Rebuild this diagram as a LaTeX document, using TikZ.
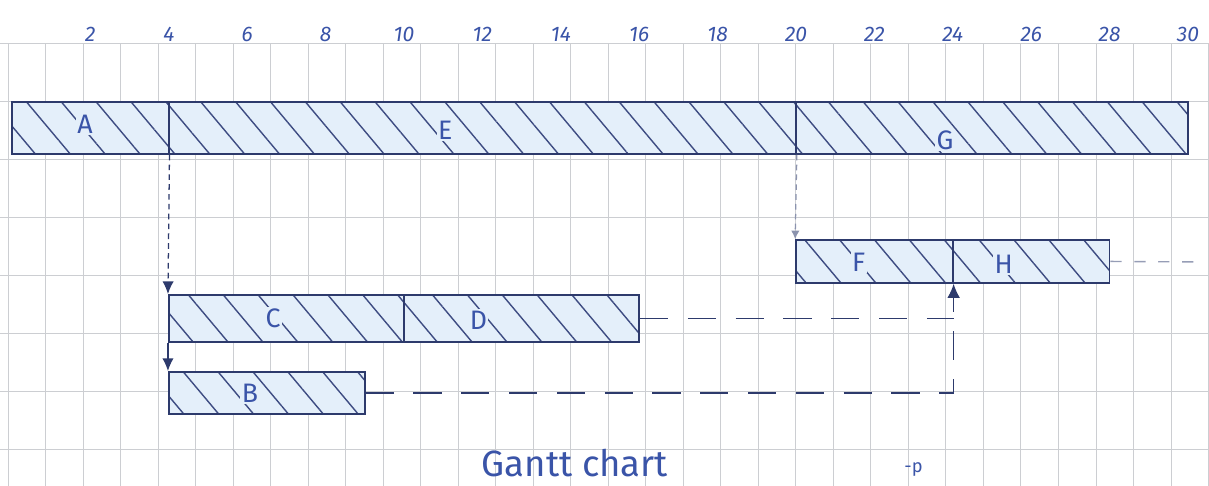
\documentclass[tikz,border=0pt]{standalone}
\usepackage{fontspec}
\setmainfont{Fira Sans}
\usetikzlibrary{positioning,arrows.meta,fit,patterns.meta}
\definecolor{ink}{RGB}{45,58,108}
\definecolor{hatch}{RGB}{62,76,130}
\definecolor{pen}{RGB}{58,84,168}
\definecolor{barwash}{RGB}{228,239,250}
\definecolor{gridline}{RGB}{204,206,210}

\begin{document}
\begin{tikzpicture}[x=0.98cm, y=-0.025cm,
		gridrule/.style={draw=gridline, line width=0.7pt},
		bar/.style={draw=ink, line width=1.2pt, inner sep=0pt,
			preaction={fill=barwash},
			pattern={Lines[angle=-50, distance=19pt, line width=1pt]},
			pattern color=hatch},
		lbl/.style={text=pen, fill=barwash, inner sep=1pt,
			font=\fontsize{19}{21}\selectfont},
		tick/.style={text=pen, font=\fontsize{15}{17}\selectfont\itshape},
		dep/.style={ink, line width=0.9pt, dash pattern=on 4pt off 3pt},
		link/.style={ink, line width=0.9pt},
		longdash/.style={ink, line width=1pt, dash pattern=on 20pt off 14pt},
		shortdash/.style={ink!50, line width=1pt, dash pattern=on 8pt off 9pt}]
	\useasboundingbox (-0.306,0) rectangle (30.536,486);
	% squared paper
	\foreach \k in {0,...,32}
		\draw[gridrule] ({-0.1+0.957*\k},44) -- ({-0.1+0.957*\k},486);
	\foreach \y in {44,102,...,450}
		\draw[gridrule] (-0.306,\y) -- (30.536,\y);
	% time scale
	\foreach \t in {2,4,...,30}
		\node[tick] (n\t) at (\t,34) {\t};
	% activities
	\node[bar, fit={(0,102) (4,154)}] (A) {};
	\node[bar, fit={(4,102) (20,154)}] (E) {};
	\node[bar, fit={(20,102) (30,154)}] (G) {};
	\node[bar, fit={(20,240) (24,283)}] (F) {};
	\node[bar, fit={(24,240) (28,283)}] (H) {};
	\node[bar, fit={(4,295) (10,342)}] (C) {};
	\node[bar, fit={(10,295) (16,342)}] (D) {};
	\node[bar, fit={(4,372) (9,414)}] (B) {};
	\node[lbl] (lA) at (1.86,124) {A};
	\node[lbl] (lE) at (11.05,130) {E};
	\node[lbl] (lG) at (23.8,140) {G};
	\node[lbl] (lF) at (21.6,262) {F};
	\node[lbl] (lH) at (25.3,264) {H};
	\node[lbl] (lC) at (6.66,318) {C};
	\node[lbl] (lD) at (11.9,320) {D};
	\node[lbl] (lB) at (6.07,393) {B};
	% dependencies
	\draw[dep, -{Latex[length=9pt, width=8pt]}] (A.south east) -- (C.north west);
	\draw[link, -{Latex[length=9pt, width=8pt]}] (C.south west) -- (B.north west);
	\draw[dep, ink!55, -{Latex[length=6pt, width=6pt]}] (E.south east) -- (F.north west);
	\draw[longdash] (D.east) -- (D.east -| F.south east);
	\draw[longdash, -{Latex[length=10pt, width=9pt]}] (B.east) -- (B.east -| F.south east)
		-- (F.south east);
	\coordinate (tail) at (30.2,262);
	\draw[shortdash] (H.east) -- (tail);
	\node[text=pen, font=\fontsize{26}{28}\selectfont] (title) at (14.36,463) {Gantt chart};
	\node[text=pen, font=\fontsize{13}{15}\selectfont] (mark) at (23.0,470) {-p};
\end{tikzpicture}
\end{document}
